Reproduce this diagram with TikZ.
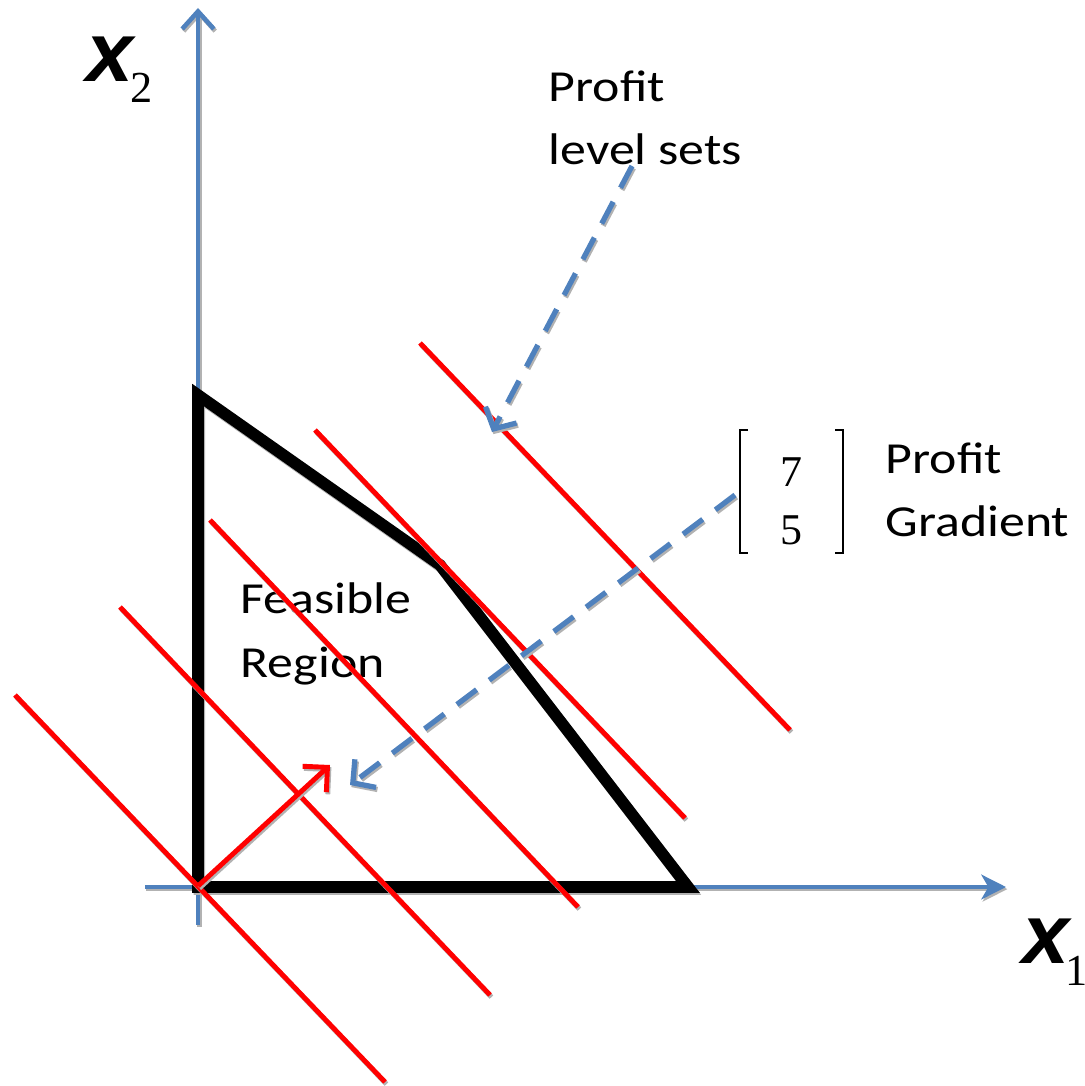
\documentclass[tikz,border=0pt]{standalone}
\usepackage{fontspec}
\usetikzlibrary{arrows.meta}
\newfontfamily\labelfont{Carlito}[FakeStretch=1.17]
\newfontfamily\axisfont{Liberation Sans}
\newfontfamily\numfont{Liberation Serif}
\definecolor{axisblue}{RGB}{79,129,189}
\tikzset{
  shadowed/.style={preaction={draw=gray!60, line width=#1, transform canvas={xshift=0.4pt,yshift=-0.6pt}}},
  axis/.style={draw=axisblue, line width=1.3pt, shadowed=1.3pt},
  region/.style={draw=black, line width=3.3pt, line join=miter, shadowed=3.3pt},
  levelset/.style={draw=red, line width=1.4pt, shadowed=1.4pt},
  gradarrow/.style={draw=red, line width=1.4pt, -{Straight Barb[length=5pt,width=10pt]}, shadowed=1.4pt},
  pointer/.style={draw=axisblue, line width=1.5pt, dash pattern=on 7pt off 4.5pt, -{Straight Barb[length=4.5pt,width=10pt]},
    preaction={draw=gray!60, line width=1.5pt, dash pattern=on 7pt off 4.5pt, transform canvas={xshift=0.4pt,yshift=-0.6pt}}},
  note/.style={font=\labelfont\fontsize{12.6}{18}\selectfont, align=left, inner sep=0pt, anchor=base west},
  vecnum/.style={font=\numfont\fontsize{12.5}{16.5}\selectfont, align=center, inner sep=0pt},
  bracket/.style={draw=black, line width=0.7pt},
  axislabel/.style={font=\axisfont\bfseries\itshape\fontsize{24}{24}\selectfont, inner sep=0pt, anchor=base west}
}
\newcommand{\subnum}[1]{{\numfont\mdseries\upshape\fontsize{12.6}{12.6}\selectfont #1}}
\begin{document}
\begin{tikzpicture}[x=0.01cm,y=-0.01cm]
  \useasboundingbox (0,0) rectangle (1084,1086);
  % Axes
  \draw[axis, -{Straight Barb[length=5pt,width=9pt]}] (198,925) -- (198,8);
  \draw[axis, -{Stealth[length=7pt,width=7pt,inset=2pt]}] (145,887) -- (1006,887);
  \node[axislabel] (xtwo) at (86,82) {x\kern-1pt\raisebox{-5.7pt}{\subnum{2}}};
  \node[axislabel] (xone) at (1022,963) {x\kern-1.2pt\raisebox{-6.3pt}{\subnum{1}}};
  % Feasible region
  \draw[region] (198,395) -- (440,565) -- (688,887) -- (198,887) -- cycle;
  \node[note] (feasible) at (240,677) {Feasible\\Region};
  % Profit level sets
  \foreach \xa/\ya/\xb/\yb in {15/695/385/1082, 120/607/490/995, 210/520/578/907, 315/430/685/818, 420/343/790/730}
    \draw[levelset] (\xa,\ya) -- (\xb,\yb);
  % Gradient
  \coordinate (origin) at (198,886);
  \coordinate (gradtip) at (330,765);
  \draw[gradarrow] (origin) -- (gradtip);
  % Labels
  \node[note] (levelnote) at (548,165) {Profit\\level sets};
  \coordinate (leveltail) at (632,166);
  \coordinate (levelhead) at (492,432);
  \draw[pointer] (leveltail) -- (levelhead);
  \node[vecnum] (gradvec) at (791,501) {7\\5};
  \draw[bracket] (748,430) -| (740,553) -- (748,553);
  \draw[bracket] (835,430) -| (843,553) -- (835,553);
  \node[note] (gradnote) at (885,537) {Profit\\Gradient};
  \coordinate (gradtail) at (735,495);
  \coordinate (gradhead) at (350,785);
  \draw[pointer] (gradtail) -- (gradhead);
\end{tikzpicture}
\end{document}
